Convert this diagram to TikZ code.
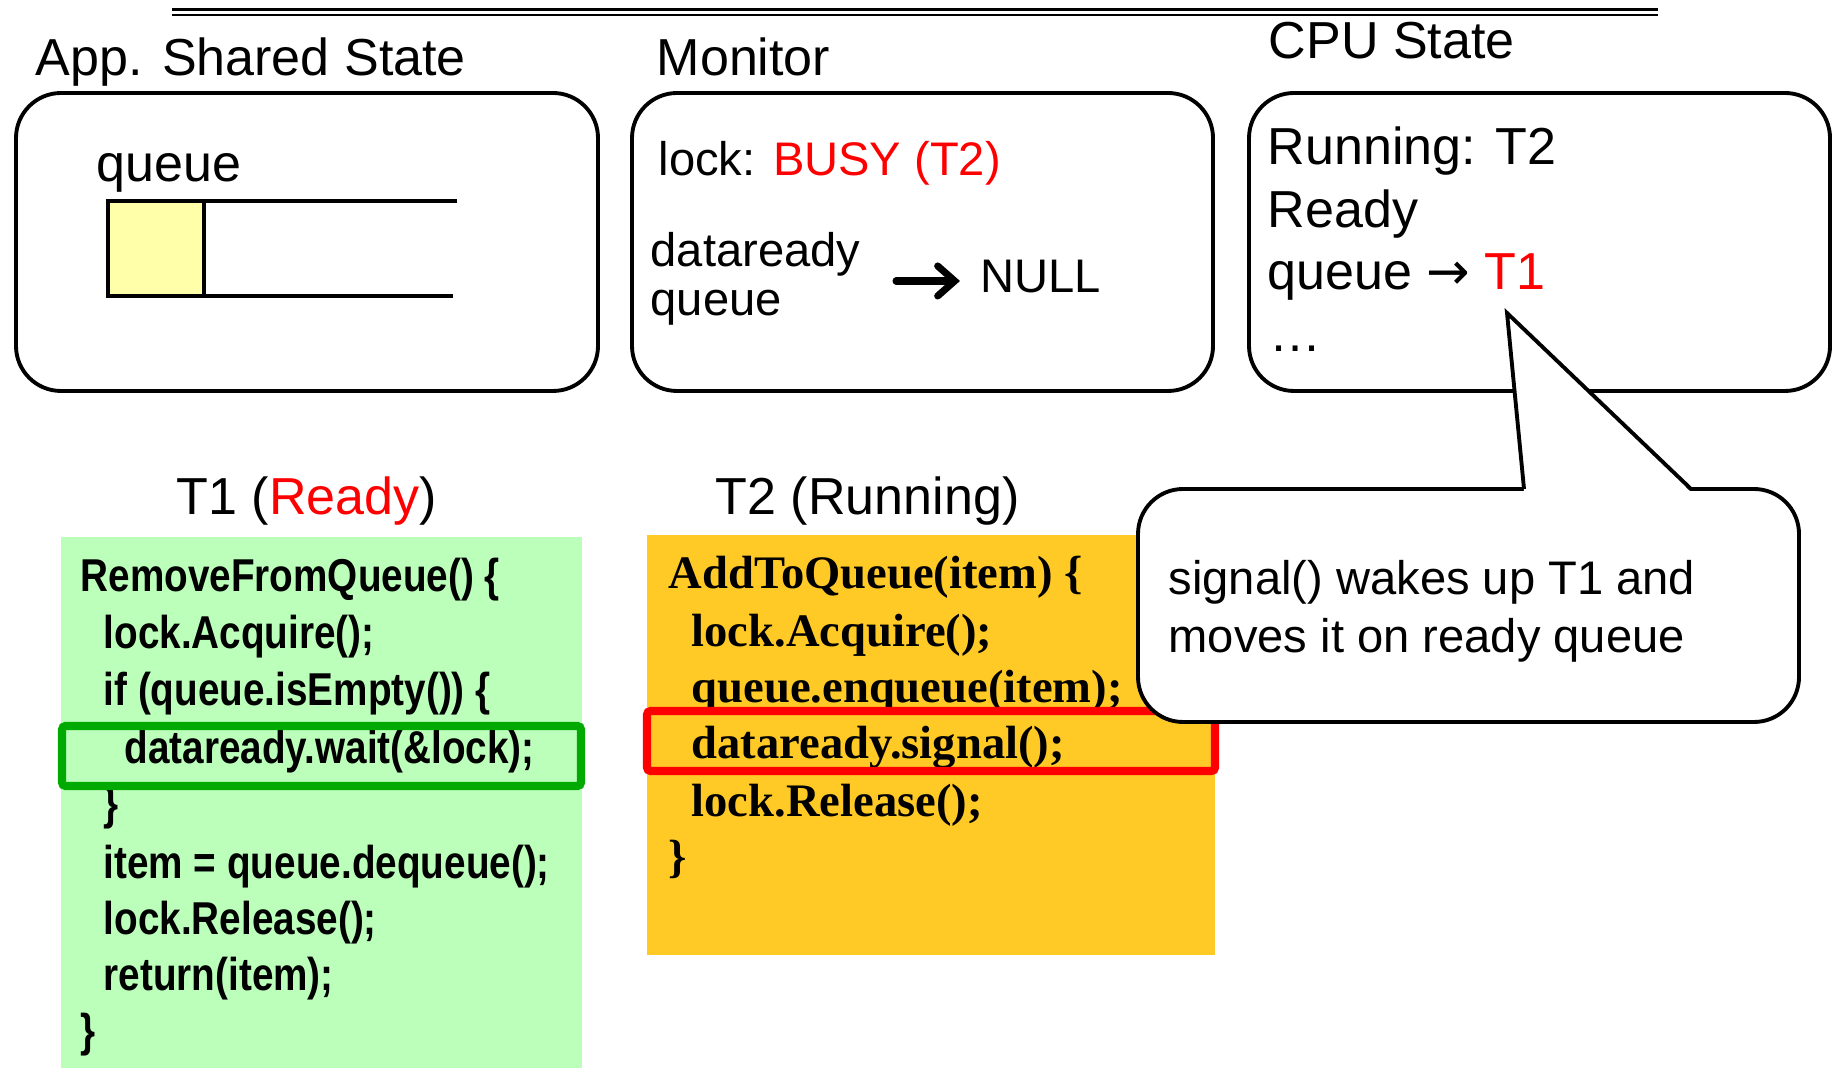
\documentclass[tikz,border=0pt]{standalone}
\usepackage{fontspec}
\setmainfont{Liberation Sans}
\newfontfamily\narrowsans{Liberation Sans}[FakeStretch=0.84]
\newfontfamily\timescode{Liberation Serif}
\newfontfamily\arrowfont{DejaVu Sans}
\usetikzlibrary{arrows.meta}
\definecolor{codegreen}{RGB}{187,255,187}
\definecolor{codeorange}{RGB}{255,201,38}
\definecolor{queuefill}{RGB}{255,255,170}
\definecolor{markgreen}{RGB}{0,170,0}

\begin{document}
\begin{tikzpicture}[x=0.01cm, y=-0.01cm,
  txt/.style={anchor=base west, inner sep=0},
  big/.style={txt, font=\fontsize{14.8}{17.6}\selectfont},
  small/.style={txt, font=\fontsize{13.4}{16}\selectfont},
  sanscode/.style={txt, font=\narrowsans\bfseries\fontsize{13.1}{16}\selectfont},
  serifcode/.style={txt, font=\timescode\bfseries\fontsize{13.25}{16}\selectfont},
  statebox/.style={draw, line width=1.1pt, rounded corners=0.45cm},
  markbox/.style={draw, line width=2.3pt, rounded corners=1pt},
  fatarrow/.style={line width=2pt, line cap=round, -{Straight Barb[length=0.17cm, width=0.3cm, line cap=round]}}]
\useasboundingbox (0,0) rectangle (1837,1068);

% rule at the top
\draw [line width=0.65pt] (172,9.5) -- (1658,9.5);
\draw [line width=0.65pt] (172,15) -- (1658,15);

% titles
\node [big] (apptitle) at (35,76) {App. Shared State};
\node [big] (montitle) at (656,76) {Monitor};
\node [big] (cputitle) at (1268,59) {CPU State};

% shared state
\draw [statebox] (16,93) rectangle (598,391);
\node [big] (qlabel) at (96,182) {queue};
\draw [line width=1.3pt, fill=queuefill] (108,201) rectangle (204,296);
\draw [line width=1.3pt] (108,201) -- (457,201);
\draw [line width=1.3pt] (108,296) -- (453,296);

% monitor
\draw [statebox] (632,93) rectangle (1213,391);
\node [small] (lockst) at (658,176) {lock: \textcolor{red}{BUSY (T2)}};
\node [small] (dq1) at (650,267) {dataready};
\node [small] (dq2) at (650,316) {queue};
\node [small] (null) at (980,293) {NULL};
\coordinate (dqarr) at (896,281);
\draw [fatarrow, shorten >=0.2cm] (dqarr) -- (dqarr -| null.west);

% cpu state
\draw [statebox] (1249,93) rectangle (1830,391);
\node [big] (run) at (1267,165) {Running: T2};
\node [big] (rdy1) at (1267,228) {Ready};
\node [big] (rdy2) at (1267,290) {queue {\arrowfont →} \textcolor{red}{T1}};
\node [big] (dots) at (1269,352) {…};

% threads
\node [big] (t1title) at (176,515) {T1 (\textcolor{red}{Ready})};
\node [big] (t2title) at (715,515) {T2 (Running)};

\fill [codegreen] (61,537) rectangle (582,1068);
\node [sanscode] (g1) at (80,592) {RemoveFromQueue() \{};
\node [sanscode] (g2) at (103,649) {lock.Acquire();};
\node [sanscode] (g3) at (103,706) {if (queue.isEmpty()) \{};
\node [sanscode] (g4) at (124,764) {dataready.wait(\&lock);};
\node [sanscode] (g5) at (103,820) {\}};
\node [sanscode] (g6) at (103,879) {item = queue.dequeue();};
\node [sanscode] (g7) at (103,935) {lock.Release();};
\node [sanscode] (g8) at (103,991) {return(item);};
\node [sanscode] (g9) at (80,1046) {\}};
\draw [markbox, markgreen] (62,726) rectangle (581,786);

\fill [codeorange] (647,535) rectangle (1215,955);
\node [serifcode] (o1) at (668,589) {AddToQueue(item) \{};
\node [serifcode] (o2) at (691,647) {lock.Acquire();};
\node [serifcode] (o3) at (691,703) {queue.enqueue(item);};
\node [serifcode] (o4) at (691,759) {dataready.signal();};
\node [serifcode] (o5) at (691,817) {lock.Release();};
\node [serifcode] (o6) at (668,873) {\}};
\draw [markbox, red] (647,711) rectangle (1215,771);

% callout
\draw [statebox, fill=white] (1138,489) rectangle (1799,722);
\fill [white] (1524,492) -- (1507,313) -- (1691,492) -- cycle;
\draw [line width=1.1pt] (1524,489) -- (1507,313) -- (1691,489);
\node [small] (note1) at (1168,595) {signal() wakes up T1 and};
\node [small] (note2) at (1168,653) {moves it on ready queue};

\end{tikzpicture}
\end{document}
